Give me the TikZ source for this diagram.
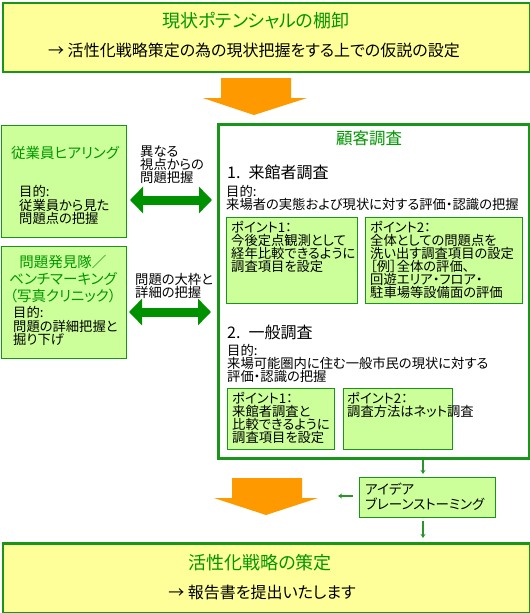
\documentclass[tikz,border=0pt]{standalone}
\usepackage{fontspec}
\setmainfont{Noto Sans CJK JP}[RawFeature=+palt]
\usetikzlibrary{arrows.meta}
\definecolor{gborder}{RGB}{25,150,25}
\definecolor{gtitle}{RGB}{0,150,0}
\definecolor{lgfill}{RGB}{204,255,153}
\definecolor{yfill}{RGB}{255,255,153}
\definecolor{orng}{RGB}{255,153,0}
\definecolor{agreen}{RGB}{0,145,0}
\definecolor{sgreen}{RGB}{40,150,40}
\begin{document}
\begin{tikzpicture}[x=1pt,y=-1pt,
  bigbox/.style={draw=gborder,line width=2.5pt,fill=yfill,anchor=north west,inner sep=0pt},
  custbox/.style={draw=gborder,line width=2.5pt,fill=white,anchor=north west,inner sep=0pt},
  lbox/.style={draw=gborder,line width=1pt,fill=lgfill,anchor=north west,inner sep=0pt},
  ttl/.style={text=gtitle,font=\fontsize{18}{20}\selectfont,inner sep=0pt},
  sttl/.style={text=gtitle,font=\fontsize{14.5}{17}\selectfont,inner sep=0pt,align=center},
  subl/.style={font=\fontsize{16}{18}\selectfont,inner sep=0pt},
  head/.style={font=\fontsize{16}{18}\selectfont,inner sep=0pt,anchor=west},
  body/.style={font=\fontsize{13.3}{12.9}\selectfont,inner sep=0pt,anchor=north west,align=left},
  bodyl/.style={font=\fontsize{13.3}{13.3}\selectfont,inner sep=0pt,anchor=north west,align=left},
  dbl/.style={draw=agreen,line width=9pt,{Triangle[length=13pt,width=26pt]}-{Triangle[length=13pt,width=26pt]}},
  smarr/.style={draw=sgreen,line width=1.2pt,-{Stealth[length=4pt,width=5pt]}},
  bigarrow/.style={fill=orng}]
\lineskiplimit=-20pt
\useasboundingbox (0,0) rectangle (530,613);

% top box
\node[bigbox,minimum width=527pt,minimum height=69pt] (top) at (1.5,1.5) {};
\node[ttl] (toptitle) at (256,21) {現状ポテンシャルの棚卸};
\node[subl] (topsub) at (254,50) {→ 活性化戦略策定の為の現状把握をする上での仮説の設定};

% orange arrow 1
\fill[bigarrow] (221,78) -- (291,78) -- (291,98) -- (307,98) -- (254,115) -- (203,98) -- (221,98) -- cycle;

% left box 1
\node[lbox,minimum width=125pt,minimum height=112pt] (lb1) at (1,125) {};
\node[sttl] (lb1t) at (65,153) {従業員ヒアリング};
\node[bodyl] (lb1b) at (19,185.3) {目的:\\従業員から見た\\問題点の把握};

% left box 2
\node[lbox,minimum width=125pt,minimum height=112pt] (lb2) at (1,246) {};
\node[sttl,anchor=north] (lb2t) at (63,255.5) {問題発見隊／\\ベンチマーキング\\（写真クリニック）};
\node[bodyl] (lb2b) at (13,306.3) {目的:\\問題の詳細把握と\\掘り下げ};

% labels
\node[bodyl] (lab1) at (140,145.3) {異なる\\視点からの\\問題把握};
\node[bodyl] (lab2) at (135,273.3) {問題の大枠と\\詳細の把握};

% customer box
\node[custbox,minimum width=311pt,minimum height=334pt] (cust) at (217,123) {};
\node[ttl,font=\fontsize{16.5}{18}\selectfont] (custt) at (369,138) {顧客調査};

% double arrows
\coordinate (d1l) at (130,200);
\coordinate (d1r) at (212,200);
\coordinate (d2l) at (129,312);
\coordinate (d2r) at (211,312);
\draw[dbl] (d1l) -- (d1r);
\draw[dbl] (d2l) -- (d2r);

% section 1
\node[head] (s1) at (227,172) {1.\hspace{0.5em}来館者調査};
\node[body] (s1b) at (226,185.3) {目的:\\来場者の実態および現状に対する評価・認識の把握};
\node[lbox,minimum width=131pt,minimum height=86pt] (pa) at (226,217) {};
\node[lbox,minimum width=157pt,minimum height=86pt] (pb) at (365,217) {};
\node[body] (pat) at (231,221.3) {ポイント1：\\今後定点観測として\\経年比較できるように\\調査項目を設定};
\node[body] (pbt) at (370,221.3) {ポイント2：\\全体としての問題点を\\洗い出す調査項目の設定\\［例］全体の評価、\\回遊エリア・フロア・\\駐車場等設備面の評価};

% section 2
\node[head] (s2) at (227,332) {2.\hspace{0.5em}一般調査};
\node[body] (s2b) at (227,344.3) {目的:\\来場可能圏内に住む一般市民の現状に対する\\評価・認識の把握};
\node[lbox,minimum width=107pt,minimum height=61pt] (pc) at (227,388) {};
\node[lbox,minimum width=109pt,minimum height=61pt] (pd) at (343,388) {};
\node[body] (pct) at (232,392.3) {ポイント1：\\来館者調査と\\比較できるように\\調査項目を設定};
\node[body] (pdt) at (347,392.3) {ポイント2：\\調査方法はネット調査};

% brainstorming
\node[lbox,minimum width=136pt,minimum height=40pt] (bs) at (359,477) {};
\node[font=\fontsize{13.5}{15}\selectfont,inner sep=0pt,anchor=north west,align=left] (bst) at (365,483) {アイデア\\ブレーンストーミング};
\coordinate (a1s) at (423,460);
\coordinate (a1e) at (423,474);
\coordinate (a2s) at (353,496);
\coordinate (a2e) at (338,496);
\coordinate (a3s) at (423,521);
\coordinate (a3e) at (423,538);
\draw[smarr] (a1s) -- (a1e);
\draw[smarr] (a2s) -- (a2e);
\draw[smarr] (a3s) -- (a3e);

% orange arrow 2
\fill[bigarrow] (232,478) -- (302,478) -- (302,498) -- (318,498) -- (266,515) -- (214,498) -- (232,498) -- cycle;

% bottom box
\node[bigbox,minimum width=527pt,minimum height=69.5pt] (bot) at (1.5,542) {};
\node[ttl] (bott) at (260,563) {活性化戦略の策定};
\node[subl] (bots) at (262,592) {→ 報告書を提出いたします};
\end{tikzpicture}
\end{document}
